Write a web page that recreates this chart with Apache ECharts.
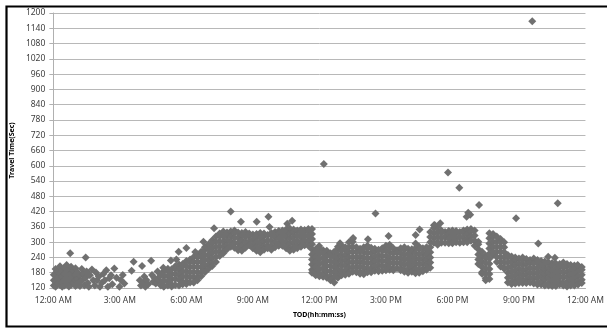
<!DOCTYPE html>
<html><head><meta charset="utf-8">
<script src="https://cdn.jsdelivr.net/npm/echarts@6/dist/echarts.min.js"></script>
<style>html,body{margin:0;padding:0;background:#fff}#c{width:607px;height:328px}</style>
</head><body><div id="c"></div>
<script>
// x tick labels (every 3 hours)
const xTickLabels = ['12:00 AM','3:00 AM','6:00 AM','9:00 AM','12:00 PM','3:00 PM','6:00 PM','9:00 PM','12:00 AM'];
// minutes of the 10-minute slots inside each hour
const slotMinutes = [0,10,20,30,40,50];

// Dense band: travel times (sec) read per 10-minute slot, 5:00 - 23:50
const h05 = [[188,168,148,128],[196,186,166,146,130],[194,174,154,134,126],[205,195,175,155,132],[212,192,172,152,130],[214,204,184,164,144,135]];
const h06 = [[226,206,186,166,146,136],[232,222,202,182,162,142],[242,222,202,182,162,142],[252,242,222,202,182,162,150],[262,242,222,202,182,166],[280,270,250,230,210,190,182]];
const h07 = [[292,272,252,232,212,196],[308,298,278,258,238,218,206],[322,302,282,262,242,222],[334,324,304,284,264,246],[342,322,302,282,262,256],[338,328,308,288,272]];
const h08 = [[342,322,302,282],[346,336,316,296,278],[338,318,298,278,268],[336,326,306,286,266],[340,320,300,278],[334,324,304,288]];
const h09 = [[330,310,290,276],[332,322,302,282,266],[336,316,296,276,260],[334,324,304,284,270],[328,308,288,276],[336,326,306,286,270]];
const h10 = [[340,320,300,280],[344,334,314,294,286],[346,326,306,286],[350,340,320,300,280,276],[354,334,314,294,274,266],[350,340,320,300,280,270]];
const h11 = [[346,326,306,286,276],[350,340,320,300,282],[348,328,308,288],[352,342,322,302,286],[352,332,312,292,272,252,232,212,192,180],[272,262,242,222,202,182,170]];
const h12 = [[274,254,234,214,194,174,166],[268,258,238,218,198,178,164],[266,246,226,206,186,166,160],[256,246,226,206,186,166,150],[262,242,222,202,182,162,142],[282,272,252,232,212,192,172,160]];
const h13 = [[286,266,246,226,206,186,170],[280,270,250,230,210,190,172],[300,280,260,240,220,200,180,176],[312,302,282,262,242,222,202,184],[280,260,240,220,200,182],[274,264,244,224,204,184,176]];
const h14 = [[280,260,240,220,200,180,174],[286,276,256,236,216,196,182],[278,258,238,218,198,182],[274,264,244,224,204,188],[270,250,230,210,190,186],[276,266,246,226,206,188]];
const h15 = [[286,266,246,226,206,190],[290,280,260,240,220,200,192],[276,256,236,216,196,190],[268,258,238,218,198],[276,256,236,216,196,190],[280,270,250,230,210,190,184]];
const h16 = [[274,254,234,214,194,180],[272,262,242,222,202,184],[276,256,236,216,196,178],[282,272,252,232,212,192,180],[276,256,236,216,196,186],[280,270,250,230,210,192]];
const h17 = [[340,320,300,280,260,240,220,200],[366,356,336,316,298],[360,340,320,300,290],[346,336,316,298],[340,320,298],[344,334,314,296]];
const h18 = [[346,326,306,296],[344,334,314,300],[340,320,298],[346,336,316,300],[350,330,310,300],[352,342,322,306]];
const h19 = [[346,326,306,286],[302,292,272,252,232,214],[262,242,222,202,182,176],[248,238,218,198,178,158,150],[335,315,295,275,255,235,215,195,175,155],[332,322,302,282,262,250]];
const h20 = [[322,302,282,262,242,222],[312,302,282,262,242,222,204],[300,280,260,240,220,200,196],[250,240,220,200,180,160,142],[244,224,204,184,164,144,136],[240,230,210,190,170,150,138]];
const h21 = [[236,216,196,176,156,140],[240,230,210,190,170,150,140],[234,214,194,174,154,140],[230,220,200,180,160,142],[236,216,196,176,156,138],[230,220,200,180,160,140,134]];
const h22 = [[226,206,186,166,146,134],[224,214,194,174,154,134,130],[220,200,180,160,140,130],[218,208,188,168,148,128],[216,196,176,156,136,128],[214,204,184,164,144,134]];
const h23 = [[220,200,180,160,140,130],[214,204,184,164,144,126],[210,190,170,150,130],[208,198,178,158,138,130],[206,186,166,146,134],[202,192,172,152,140]];
const bandHours = [[5,h05],[6,h06],[7,h07],[8,h08],[9,h09],[10,h10],[11,h11],[12,h12],[13,h13],[14,h14],[15,h15],[16,h16],[17,h17],[18,h18],[19,h19],[20,h20],[21,h21],[22,h22],[23,h23]];

// Midnight cluster [hour, sec]
const midnightCluster = [
 [0.02,172],[0.02,150],[0.02,130],
 [0.1,195],[0.1,168],[0.1,145],[0.1,125],
 [0.2,185],[0.2,160],[0.2,138],
 [0.3,205],[0.3,178],[0.3,155],[0.3,132],
 [0.4,190],[0.4,165],[0.4,142],[0.4,125],
 [0.5,200],[0.5,175],[0.5,150],[0.5,130],
 [0.6,210],[0.6,185],[0.6,160],[0.6,138],
 [0.7,192],[0.7,170],[0.7,148],[0.7,126],
 [0.8,203],[0.8,178],[0.8,155],[0.8,132],
 [0.9,188],[0.9,165],[0.9,140],
 [1.0,198],[1.0,172],[1.0,150],[1.0,128],
 [1.1,180],[1.1,155],[1.1,135],
 [1.2,170],[1.2,145],[1.2,128]
];
// Sparse early-morning points [hour, sec]
const earlySparse = [
 [1.28,195],[1.3,150],[1.35,175],[1.4,130],[1.45,160],[1.5,185],[1.55,140],[1.6,125],[1.65,170],[1.74,193],
 [1.8,150],[1.87,130],[1.92,181],[1.97,150],[2.05,165],[2.1,125],[2.18,140],[2.25,175],[2.32,150],[2.39,190],
 [2.46,125],[2.52,158],[2.6,170],[2.66,135],[2.75,197],[2.85,160],[2.98,125],[3.05,150],[3.13,171],[3.2,138],
 [3.53,188],[3.62,223],[3.9,150],[3.95,130],[4.0,206],[4.05,140],[4.1,165],[4.15,125],[4.2,151],[4.28,135],
 [4.41,227],[4.45,171],[4.5,145],[4.55,160],[4.62,138],[4.7,185],[4.75,150],[4.8,165],[4.85,130],[4.9,175],
 [4.93,145],[4.96,200],[4.98,125]
];
// Outliers [hour, sec]
const outliers = [
 [0.76,256],[1.46,240],[5.3,228],[5.55,232],[5.65,262],[6.0,277],[6.4,261],[6.77,302],[7.25,355],
 [8.0,420],[8.46,380],[9.17,380],[9.7,400],[9.75,360],[10.55,372],[10.77,384],[11.99,285],[12.2,607],
 [12.93,296],[13.52,316],[14.19,311],[14.53,413],[15.12,324],[16.34,295],[16.34,328],[16.52,350],
 [17.2,367],[17.45,374],[17.8,574],[18.31,514],[18.64,400],[18.71,416],[18.8,408],[19.2,446],
 [20.87,394],[21.6,1168],[21.87,295],[22.32,243],[22.62,239],[22.75,453],[23.65,210]
];

const pts = [];
bandHours.forEach(([h, slots]) => {
  slots.forEach((vals, j) => {
    vals.forEach(v => pts.push([h + slotMinutes[j] / 60, v]));
  });
});
midnightCluster.forEach(p => pts.push(p));
earlySparse.forEach(p => pts.push(p));
outliers.forEach(p => pts.push(p));

const chart = echarts.init(document.getElementById('c'), null, {renderer: 'canvas'});
const labelFont = {fontFamily: 'Noto Sans', fontSize: 8.5, color: '#404040'};
chart.setOption({
  animation: false,
  grid: {left: 48, right: 20, top: 13, bottom: 40, containLabel: false},
  xAxis: {
    type: 'value', min: 0, max: 24, interval: 3,
    name: 'TOD(hh:mm:ss)', nameLocation: 'middle', nameGap: 23,
    nameTextStyle: {fontFamily: 'Noto Sans', fontSize: 7, fontWeight: 'bold', color: '#000'},
    axisLine: {show: true, lineStyle: {color: '#b0b0b0', width: 1}},
    axisTick: {show: false},
    splitLine: {show: false},
    axisLabel: Object.assign({margin: 8, formatter: v => xTickLabels[Math.round(v / 3)]}, labelFont)
  },
  yAxis: {
    type: 'value', min: 120, max: 1200, interval: 60,
    name: 'Travel Time(Sec)', nameLocation: 'middle', nameGap: 30, nameRotate: 90,
    nameTextStyle: {fontFamily: 'Noto Sans', fontSize: 7, fontWeight: 'bold', color: '#000'},
    axisLine: {show: true, lineStyle: {color: '#b0b0b0', width: 1}},
    axisTick: {show: true, length: 4, lineStyle: {color: '#b0b0b0'}},
    splitLine: {show: true, lineStyle: {color: '#b8b8b8', width: 1}},
    axisLabel: Object.assign({margin: 8, formatter: v => String(v)}, labelFont)
  },
  series: [{
    type: 'scatter', symbol: 'diamond', symbolSize: [8, 8],
    itemStyle: {color: '#707070', opacity: 1},
    clip: false,
    data: pts
  }],
  graphic: [{
    type: 'rect', left: 4, top: 4, silent: true,
    shape: {x: 0, y: 0, width: 700, height: 320},
    style: {fill: 'none', stroke: '#000', lineWidth: 2.2}
  }]
});
</script></body></html>
